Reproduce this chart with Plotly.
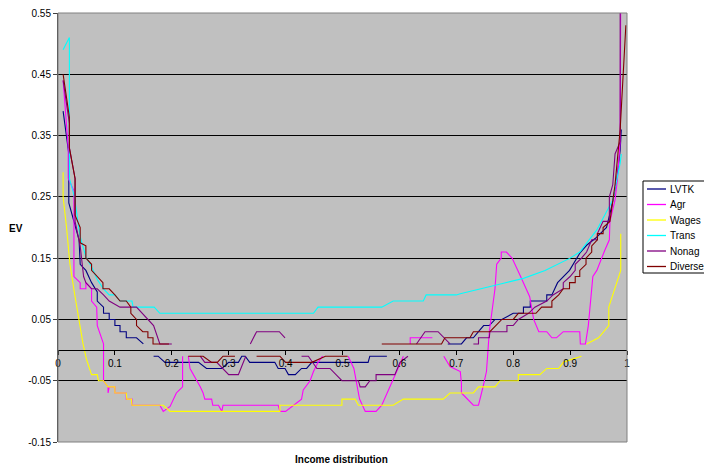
import plotly.graph_objects as go

# EV by income percentile for each income source; None marks a break in the line
lvtk = [
    (0.009, 0.39), (0.019, 0.32), (0.019, 0.24), (0.037, 0.18), (0.039, 0.14), (0.049, 0.13),
    (0.059, 0.11), (0.069, 0.095), (0.069, 0.08), (0.08, 0.07), (0.08, 0.06), (0.09, 0.06),
    (0.09, 0.05), (0.1, 0.05), (0.1, 0.04), (0.109, 0.04), (0.109, 0.03), (0.12, 0.03),
    (0.12, 0.02), (0.138, 0.02), (0.15, 0.01), None,
    (0.168, -0.01), (0.176, -0.01), (0.188, -0.02), (0.247, -0.02), (0.261, -0.03), (0.288, -0.03),
    (0.30, -0.02), (0.317, -0.02), (0.323, -0.01), (0.329, -0.01), (0.337, -0.02), (0.381, -0.02),
    (0.387, -0.03), (0.399, -0.03), (0.405, -0.04), (0.417, -0.04), (0.428, -0.03), (0.437, -0.03),
    (0.446, -0.02), (0.545, -0.02), (0.548, -0.01), (0.578, -0.01), None,
    (0.685, 0.01), (0.709, 0.01), (0.718, 0.02), (0.73, 0.02), (0.739, 0.03), (0.748, 0.04),
    (0.758, 0.04), (0.768, 0.05), (0.78, 0.05), (0.80, 0.06), (0.818, 0.06), (0.818, 0.07),
    (0.83, 0.07), (0.83, 0.08), (0.859, 0.08), (0.859, 0.09), (0.868, 0.09), (0.878, 0.11),
    (0.899, 0.13), (0.909, 0.145), (0.917, 0.158), (0.929, 0.171), (0.944, 0.182), (0.964, 0.20),
    (0.973, 0.234), (0.982, 0.277), (0.988, 0.326), (0.99, 0.36),
]

agr = [
    (0.009, 0.44), (0.018, 0.33), (0.018, 0.28), (0.028, 0.26), (0.028, 0.12), (0.039, 0.11),
    (0.039, 0.10), (0.049, 0.10), (0.049, 0.11), (0.059, 0.10), (0.059, 0.08), (0.068, 0.07),
    (0.069, 0.04), (0.08, 0.01), (0.08, -0.05), (0.088, -0.06), (0.088, -0.07), (0.09, -0.06),
    (0.1, -0.06), (0.1, -0.07), (0.12, -0.07), (0.12, -0.08), (0.13, -0.08), (0.13, -0.09),
    (0.179, -0.09), (0.185, -0.10), (0.197, -0.092), (0.208, -0.07), (0.219, -0.06), (0.219, -0.01), None,
    (0.229, -0.01), (0.232, -0.03), (0.25, -0.06), (0.255, -0.07), (0.258, -0.08), (0.27, -0.08),
    (0.272, -0.09), (0.282, -0.09), (0.288, -0.10), (0.29, -0.09), (0.387, -0.09), (0.39, -0.10),
    (0.40, -0.10), (0.415, -0.09), (0.428, -0.08), (0.431, -0.065), (0.443, -0.05), (0.449, -0.035),
    (0.457, -0.02), (0.465, -0.01), None,
    (0.51, -0.01), (0.52, -0.03), (0.526, -0.06), (0.53, -0.08), (0.54, -0.10), (0.559, -0.10),
    (0.569, -0.09), (0.583, -0.06), (0.598, -0.03), (0.607, -0.01), None,
    (0.619, 0.01), (0.619, 0.02), (0.658, 0.02), None,
    (0.678, -0.01), (0.689, -0.027), (0.707, -0.035), (0.709, -0.054), (0.709, -0.07), (0.73, -0.09),
    (0.739, -0.09), (0.742, -0.08), (0.747, -0.06), (0.753, -0.035), (0.758, 0.03), (0.768, 0.10),
    (0.771, 0.14), (0.779, 0.15), (0.779, 0.16), (0.788, 0.16), (0.798, 0.15), (0.813, 0.12),
    (0.829, 0.087), (0.836, 0.05), (0.845, 0.03), (0.859, 0.03), (0.868, 0.02), (0.876, 0.02),
    (0.888, 0.03), (0.917, 0.03), (0.918, 0.01), (0.927, 0.01), (0.932, 0.04), (0.94, 0.12),
    (0.947, 0.13), (0.961, 0.163), (0.969, 0.18), (0.97, 0.21), (0.979, 0.245), (0.983, 0.277),
    (0.986, 0.31), (0.988, 0.34), (0.989, 0.60),
]

wages = [
    (0.009, 0.29), (0.009, 0.25), (0.015, 0.20), (0.021, 0.14), (0.03, 0.087), (0.039, 0.038),
    (0.044, 0.01), (0.05, -0.015), (0.059, -0.04), (0.069, -0.04), (0.071, -0.05), (0.08, -0.05),
    (0.088, -0.06), (0.1, -0.06), (0.1, -0.07), (0.12, -0.07), (0.121, -0.08), (0.129, -0.08),
    (0.13, -0.09), (0.185, -0.09), (0.197, -0.10), (0.39, -0.10), (0.39, -0.09), (0.499, -0.09),
    (0.499, -0.08), (0.522, -0.08), (0.528, -0.09), (0.589, -0.09), (0.607, -0.08), (0.677, -0.08),
    (0.689, -0.07), (0.73, -0.07), (0.739, -0.06), (0.768, -0.06), (0.777, -0.05), (0.809, -0.05),
    (0.809, -0.04), (0.847, -0.04), (0.859, -0.03), (0.88, -0.03), (0.888, -0.02), (0.90, -0.016),
    (0.92, -0.01), None,
    (0.929, 0.01), (0.95, 0.02), (0.968, 0.04), (0.968, 0.07), (0.989, 0.13), (0.989, 0.19),
]

trans = [
    (0.009, 0.49), (0.02, 0.51), (0.02, 0.28), (0.029, 0.25), (0.037, 0.196), (0.039, 0.185),
    (0.049, 0.152), (0.059, 0.136), (0.069, 0.115), (0.08, 0.10), (0.09, 0.09), (0.1, 0.09),
    (0.109, 0.08), (0.13, 0.08), (0.132, 0.07), (0.169, 0.07), (0.179, 0.06), (0.449, 0.06),
    (0.457, 0.07), (0.569, 0.07), (0.589, 0.08), (0.642, 0.08), (0.647, 0.09), (0.70, 0.09),
    (0.707, 0.092), (0.745, 0.10), (0.783, 0.109), (0.818, 0.117), (0.856, 0.13), (0.90, 0.15),
    (0.917, 0.16), (0.947, 0.196), (0.975, 0.245), (0.988, 0.305), (0.99, 0.32),
]

nonag = [
    (0.009, 0.44), (0.02, 0.37), (0.02, 0.33), (0.03, 0.28), (0.03, 0.21), (0.039, 0.17),
    (0.045, 0.12), (0.049, 0.11), (0.059, 0.10), (0.069, 0.10), (0.08, 0.09), (0.09, 0.08),
    (0.109, 0.07), (0.138, 0.07), (0.168, 0.04), (0.179, 0.01), (0.2, 0.01), None,
    (0.25, -0.01), (0.258, -0.02), (0.279, -0.02), (0.29, -0.03), (0.30, -0.04), (0.317, -0.04),
    (0.325, -0.02), (0.33, -0.01), None,
    (0.338, 0.01), (0.349, 0.03), (0.389, 0.03), (0.399, 0.02), None,
    (0.428, -0.01), (0.44, -0.01), (0.455, -0.03), (0.478, -0.03), (0.499, -0.05), (0.528, -0.05),
    (0.531, -0.06), (0.54, -0.06), (0.548, -0.05), (0.559, -0.05), (0.559, -0.04), (0.592, -0.04),
    (0.601, -0.02), (0.615, -0.01), None,
    (0.63, 0.01), (0.645, 0.03), (0.668, 0.03), (0.689, 0.01), None,
    (0.73, 0.01), (0.739, 0.01), (0.739, 0.02), (0.758, 0.02), (0.759, 0.03), (0.789, 0.03),
    (0.789, 0.04), (0.80, 0.04), (0.809, 0.05), (0.827, 0.06), (0.838, 0.07), (0.859, 0.08),
    (0.87, 0.09), (0.888, 0.10), (0.888, 0.11), (0.90, 0.12), (0.909, 0.13), (0.909, 0.14),
    (0.92, 0.15), (0.929, 0.16), (0.938, 0.18), (0.948, 0.18), (0.948, 0.19), (0.958, 0.21),
    (0.969, 0.21), (0.969, 0.25), (0.975, 0.27), (0.979, 0.32), (0.988, 0.34), (0.988, 0.60),
]

diverse = [
    (0.009, 0.45), (0.02, 0.38), (0.02, 0.33), (0.03, 0.28), (0.03, 0.22), (0.039, 0.20),
    (0.039, 0.175), (0.049, 0.17), (0.049, 0.15), (0.059, 0.14), (0.059, 0.13), (0.069, 0.12),
    (0.079, 0.11), (0.079, 0.10), (0.09, 0.10), (0.1, 0.09), (0.109, 0.08), (0.12, 0.08),
    (0.128, 0.07), (0.128, 0.06), (0.138, 0.05), (0.138, 0.04), (0.149, 0.03), (0.158, 0.03),
    (0.158, 0.02), (0.167, 0.02), (0.167, 0.01), (0.195, 0.01), None,
    (0.229, -0.01), (0.255, -0.01), (0.27, -0.02), (0.28, -0.02), (0.29, -0.01), (0.311, -0.01), None,
    (0.349, -0.01), (0.39, -0.01), (0.40, -0.02), (0.446, -0.02), (0.47, -0.01), (0.509, -0.01), None,
    (0.569, 0.01), (0.674, 0.01), (0.68, 0.02), (0.724, 0.02), (0.73, 0.03), (0.759, 0.03),
    (0.78, 0.05), (0.80, 0.05), (0.809, 0.06), (0.84, 0.06), (0.85, 0.07), (0.868, 0.07),
    (0.868, 0.08), (0.88, 0.09), (0.888, 0.10), (0.899, 0.10), (0.899, 0.11), (0.909, 0.11),
    (0.909, 0.12), (0.917, 0.12), (0.917, 0.13), (0.928, 0.14), (0.928, 0.15), (0.938, 0.16),
    (0.938, 0.17), (0.948, 0.18), (0.948, 0.19), (0.958, 0.19), (0.958, 0.20), (0.97, 0.21),
    (0.979, 0.27), (0.985, 0.33), (0.988, 0.36), (0.998, 0.53),
]

series_names = ["LVTK", "Agr", "Wages", "Trans", "Nonag", "Diverse"]
series_points = [lvtk, agr, wages, trans, nonag, diverse]
series_colors = ["#000080", "#FF00FF", "#FFFF00", "#00FFFF", "#800080", "#800000"]

x_ticks = [0, 0.1, 0.2, 0.3, 0.4, 0.5, 0.6, 0.7, 0.8, 0.9, 1]
x_labels = ["0", "0.1", "0.2", "0.3", "0.4", "0.5", "0.6", "0.7", "0.8", "0.9", "1"]
y_ticks = [-0.15, -0.05, 0.05, 0.15, 0.25, 0.35, 0.45, 0.55]
y_labels = ["-0.15", "-0.05", "0.05", "0.15", "0.25", "0.35", "0.45", "0.55"]

Y_MIN, Y_MAX = -0.15, 0.55
FONT = "Liberation Sans, Arial, sans-serif"

# page geometry (pixels)
W, H = 704, 468
PL, PR, PT, PB = 58, 627, 13, 442


def px_x(px):
    return (px - PL) / (PR - PL)


def px_y(py):
    return (PB - py) / (PB - PT)


fig = go.Figure()
for name, pts, color in zip(series_names, series_points, series_colors):
    xs = [p[0] if p is not None else None for p in pts]
    ys = [p[1] if p is not None else None for p in pts]
    fig.add_trace(go.Scatter(
        x=xs, y=ys, mode="lines", name=name, connectgaps=False,
        line=dict(color=color, width=1.1), showlegend=False,
    ))

fig.update_layout(
    width=W, height=H,
    margin=dict(l=PL, r=W - PR, t=PT, b=H - PB, autoexpand=False),
    plot_bgcolor="#C0C0C0", paper_bgcolor="white",
    font=dict(family=FONT, size=10, color="black"),
    showlegend=False,
)

# x axis drawn through y = 0, spreadsheet style
fig.update_xaxes(
    range=[0, 1], tickvals=x_ticks, ticktext=x_labels,
    showgrid=False, zeroline=False,
    showline=True, linecolor="black", linewidth=1,
    ticks="outside", ticklen=4, tickcolor="black",
    anchor="free", position=(0 - Y_MIN) / (Y_MAX - Y_MIN),
)
fig.update_yaxes(
    range=[Y_MIN, Y_MAX], tickvals=y_ticks, ticktext=y_labels,
    showgrid=True, gridcolor="black", gridwidth=1, zeroline=False,
    showline=True, linecolor="#404040", linewidth=1,
    ticks="outside", ticklen=4, tickcolor="#404040",
)

# plot-area frame
fig.add_shape(type="rect", xref="paper", yref="paper", x0=0, y0=0, x1=1, y1=1,
              line=dict(color="#808080", width=1), layer="above")

fig.add_annotation(text="<b>EV</b>", xref="paper", yref="paper", x=px_x(16), y=px_y(228),
                   showarrow=False, xanchor="center", yanchor="middle",
                   font=dict(family=FONT, size=10, color="black"))
fig.add_annotation(text="<b>Income distribution</b>", xref="paper", yref="paper",
                   x=px_x(341), y=px_y(460),
                   showarrow=False, xanchor="center", yanchor="middle",
                   font=dict(family=FONT, size=10, color="black"))

# legend box with a line sample and label per series
LEG_L, LEG_T, LEG_B, LEG_R = 643, 181, 273, 712
LEG_ROW0, LEG_STEP = 189, 15.5
fig.add_shape(type="rect", xref="paper", yref="paper",
              x0=px_x(LEG_L), x1=px_x(LEG_R), y0=px_y(LEG_B), y1=px_y(LEG_T),
              line=dict(color="black", width=1), fillcolor="white", layer="above")
for i, (name, color) in enumerate(zip(series_names, series_colors)):
    yc = px_y(LEG_ROW0 + i * LEG_STEP)
    fig.add_shape(type="line", xref="paper", yref="paper",
                  x0=px_x(647), x1=px_x(666), y0=yc, y1=yc,
                  line=dict(color=color, width=1.3), layer="above")
    fig.add_annotation(text=name, xref="paper", yref="paper", x=px_x(668), y=yc,
                       showarrow=False, xanchor="left", yanchor="middle",
                       font=dict(family=FONT, size=10, color="black"))

fig.write_html("out.html")
